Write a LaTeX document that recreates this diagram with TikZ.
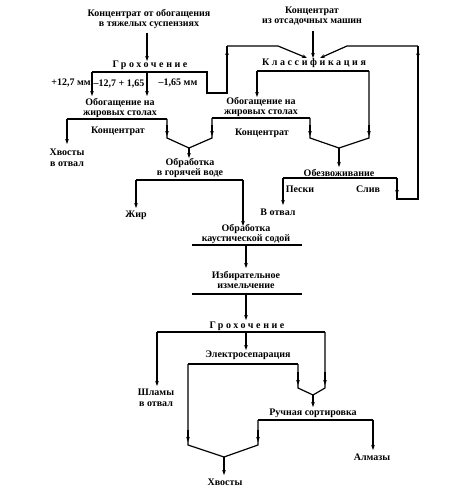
\documentclass[tikz,border=0pt]{standalone}
\usepackage{fontspec}
\setmainfont{Liberation Serif}
\usetikzlibrary{arrows.meta}
\begin{document}
\begin{tikzpicture}[x=1pt,y=-1pt,
 lbl/.style={font=\fontsize{10}{10.5}\selectfont\bfseries, inner sep=0pt, align=center},
 sp/.style={lbl, font=\fontsize{10}{10.5}\selectfont\bfseries\addfontfeature{LetterSpace=26}},
 ln/.style={line width=1.2pt, line join=miter},
 arr/.style={ln,-{Stealth[length=5pt,width=3.6pt]}}]
\useasboundingbox (0,0) rectangle (474,492);

% text nodes
\node[lbl] (src1) at (149,19) {Концентрат от обогащения\\в тяжелых суспензиях};
\node[lbl] (src2) at (312,16) {Концентрат\\из отсадочных машин};
\node[sp] (g1) at (150,65) {Грохочение};
\node[sp] (cls) at (314,63) {Классификация};
\node[lbl] (m1) at (71,83) {+12,7 мм};
\node[lbl] (m2) at (119,84) {–12,7 + 1,65};
\node[lbl] (m3) at (178,83) {–1,65 мм};
\node[lbl] (ob1) at (120,108) {Обогащение на\\жировых столах};
\node[lbl] (ob2) at (261,107) {Обогащение на\\жировых столах};
\node[lbl] (k1) at (118,131) {Концентрат};
\node[lbl] (k2) at (262,133) {Концентрат};
\node[lbl] (tail1) at (67,158) {Хвосты\\в отвал};
\node[lbl] (hot) at (190,168) {Обработка\\в горячей воде};
\node[lbl] (fat) at (136,215) {Жир};
\node[lbl] (dew) at (339,173) {Обезвоживание};
\node[lbl] (sand) at (300,189) {Пески};
\node[lbl] (slv) at (368,189) {Слив};
\node[lbl] (dump) at (278,212) {В отвал};
\node[lbl] (caus) at (246,234) {Обработка\\каустической содой};
\node[lbl] (mill) at (246,280) {Избирательное\\измельчение};
\node[sp] (g2) at (247,326) {Грохочение};
\node[lbl] (el) at (248,355) {Электросепарация};
\node[lbl] (slime) at (156,398) {Шламы\\в отвал};
\node[lbl] (hand) at (313,413) {Ручная сортировка};
\node[lbl] (diam) at (372,457) {Алмазы};
\node[lbl] (tail2) at (225,482) {Хвосты};

% coordinates
\coordinate (g1L) at (92,72);
\coordinate (g1M) at (147,72);
\coordinate (g1R) at (207,72);
\coordinate (ob1L) at (67,119);
\coordinate (ob1R) at (167,119);
\coordinate (ob2L) at (212,118);
\coordinate (ob2R) at (310,118);
\coordinate (clsL) at (257,71);
\coordinate (clsR) at (369,71);
\coordinate (mHot) at (189,148);
\coordinate (mDew) at (339,148);
\coordinate (hotL) at (136,180);
\coordinate (hotR) at (243,180);
\coordinate (dewL) at (283,178);
\coordinate (dewR) at (397,178);
\coordinate (causL) at (192,245);
\coordinate (causR) at (302,245);
\coordinate (millL) at (192,294);
\coordinate (millR) at (302,294);
\coordinate (g2L) at (157,332);
\coordinate (g2R) at (325,332);
\coordinate (elL) at (188,364);
\coordinate (elR) at (298,364);
\coordinate (mHand) at (313,395);
\coordinate (handL) at (258,420);
\coordinate (handR) at (373,420);
\coordinate (mTail) at (224,457);

% top feeds
\draw[arr] (147,33) -- (147,61);
\draw[arr] (313,31) -- (313,58);

% first screening
\draw[ln] (g1L) -- (g1R) -- (207,93) -- (227,93) -- (227,46);
\draw[arr] (227,62) -- (227,50);
\draw[arr] (227,46) -- (278,46) -- (307,58);
\draw[arr] (g1L) -- (92,96);
\draw[arr] (g1M) -- (147,96);

% left tables
\draw[ln] (ob1L) -- (ob1R);
\draw[arr] (ob1L) -- (67,144);
\draw[ln] (ob1R) -- (167,138) -- (mHot) -- (212,138) -- (ob2L);
\draw[arr] (167,125) -- (167,136);
\draw[arr] (212,125) -- (212,136);
\draw[arr] (mHot) -- (189,158);

% classification & right tables
\draw[ln] (clsL) -- (clsR);
\draw[arr] (clsL) -- (257,97);
\draw[ln] (ob2L) -- (ob2R);
\draw[ln] (ob2R) -- (310,138) -- (mDew) -- (369,138) -- (clsR);
\draw[arr] (310,125) -- (310,136);
\draw[arr] (369,125) -- (369,136);
\draw[arr] (mDew) -- (339,167);

% dewatering
\draw[ln] (dewL) -- (dewR);
\draw[arr] (dewL) -- (283,205);
\draw[ln] (dewR) -- (397,199) -- (418,199) -- (418,46);
\draw[arr] (397,185) -- (397,195);
\draw[arr] (418,62) -- (418,50);
\draw[arr] (418,46) -- (347,46) -- (320,58);

% hot water
\draw[ln] (hotL) -- (hotR);
\draw[arr] (hotL) -- (136,208);
\draw[arr] (hotR) -- (243,226);

% caustic, milling
\draw[ln] (causL) -- (causR);
\draw[arr] (246,245) -- (246,268);
\draw[ln] (millL) -- (millR);
\draw[arr] (246,294) -- (246,320);

% second screening
\draw[ln] (g2L) -- (g2R);
\draw[arr] (g2L) -- (157,386);
\draw[arr] (246,332) -- (246,350);
\draw[ln] (g2R) -- (325,388) -- (mHand) -- (298,388) -- (elR);
\draw[arr] (325,372) -- (325,385);
\draw[arr] (298,372) -- (298,385);
\draw[arr] (mHand) -- (313,407);

% electro
\draw[ln] (elL) -- (elR);
\draw[ln] (elL) -- (188,445) -- (mTail) -- (258,445) -- (handL);
\draw[arr] (188,430) -- (188,442);
\draw[arr] (258,430) -- (258,442);
\draw[arr] (mTail) -- (224,475);

% hand sorting
\draw[ln] (handL) -- (handR);
\draw[arr] (handR) -- (373,450);
\end{tikzpicture}
\end{document}
